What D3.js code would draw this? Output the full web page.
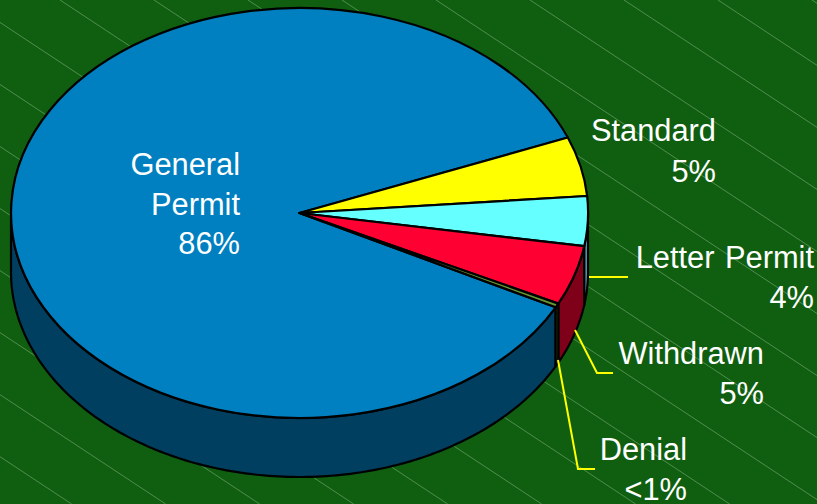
<!DOCTYPE html>
<html>
<head>
<meta charset="utf-8">
<script src="https://cdn.jsdelivr.net/npm/d3@7"></script>
<style>
  html, body { margin: 0; padding: 0; background: #105f10; overflow: hidden; }
  text { font-family: "Liberation Sans", Arial, sans-serif; font-size: 30.8px; fill: #fff; }
</style>
</head>
<body>
<div id="chart"></div>
<script>
// Values
const categories = ["General Permit", "Standard", "Letter Permit", "Withdrawn", "Denial"];
const shares = [86.39, 4.67, 3.92, 4.69, 0.33];
const topColors = ["#0080c0", "#ffff00", "#66ffff", "#ff0033", "#669933"];
const wallColors = ["#003f60", "#7f7f00", "#4fa8c0", "#7f0019", "#334c19"];

// Label lines, right aligned as in the original
const labelLines = [
    ["General", "Permit", "86%"],
    ["Standard", "5%"],
    ["Letter Permit", "4%"],
    ["Withdrawn", "5%"],
    ["Denial", "<1%"]
];

const width = 817, height = 504;
const cx = 299.5, cy = 213, rx = 288.5, ry = 205, depth = 59;
const startDeg = -242.6;

const svg = d3.select("#chart").append("svg")
    .attr("width", width)
    .attr("height", height);

svg.append("rect").attr("width", width).attr("height", height).attr("fill", "#105f10");

// Faint diagonal background hatching
const hatchSlope = 0.66;
const hatchStarts = d3.range(-786, 813, 94);
svg.append("g").selectAll("line")
    .data(hatchStarts)
    .join("line")
    .attr("x1", d => d)
    .attr("y1", 0)
    .attr("x2", d => d + height / hatchSlope)
    .attr("y2", height)
    .attr("stroke", "#8fbc8f")
    .attr("stroke-width", 0.5);

const pie = d3.pie()
    .sort(null)
    .startAngle(startDeg * Math.PI / 180)
    .endAngle((startDeg + 360) * Math.PI / 180);
const slices = pie(shares);

// Pie angle (0 at top, clockwise) to screen position on the tilted ellipse
const px = a => cx + rx * Math.sin(a);
const py = a => cy - ry * Math.cos(a);
const line = d3.line();

// Outer wall of a slice, only the part facing the viewer
function wallPath(s) {
    const halfTurn = Math.PI;
    const norm = a => (a % (2 * halfTurn) + 2 * halfTurn) % (2 * halfTurn);
    let a0 = s.startAngle, a1 = s.endAngle;
    if (a0 < 0) { a0 = norm(a0); a1 = a0 + (s.endAngle - s.startAngle); }
    a0 = Math.max(a0, halfTurn / 2);
    a1 = Math.min(a1, 1.5 * halfTurn);
    if (a1 <= a0) return null;
    const n = Math.max(2, Math.ceil((a1 - a0) * 60));
    const angles = d3.range(n + 1).map(i => a0 + (a1 - a0) * i / n);
    const upper = angles.map(a => [px(a), py(a)]);
    const lower = angles.slice().reverse().map(a => [px(a), py(a) + depth]);
    return line(upper.concat(lower)) + "Z";
}

svg.append("g").selectAll("path")
    .data(slices)
    .join("path")
    .attr("d", wallPath)
    .attr("fill", (d, i) => wallColors[i])
    .attr("stroke", "#000")
    .attr("stroke-width", 2.2)
    .attr("stroke-linejoin", "round");

// Top face: a unit arc squashed into the ellipse
const arc = d3.arc().innerRadius(0).outerRadius(1);
svg.append("g")
    .attr("transform", `translate(${cx},${cy}) scale(${rx},${ry})`)
    .selectAll("path")
    .data(slices)
    .join("path")
    .attr("d", arc)
    .attr("fill", (d, i) => topColors[i])
    .attr("stroke", "#000")
    .attr("stroke-width", 2.2)
    .attr("stroke-linejoin", "round")
    .attr("vector-effect", "non-scaling-stroke");

// Leader lines
const leaders = [
    [[589, 277], [628, 277]],
    [[575, 330], [597, 373], [613, 373]],
    [[558, 360], [578, 469], [595, 469]]
];
svg.append("g").selectAll("path")
    .data(leaders)
    .join("path")
    .attr("d", line)
    .attr("fill", "none")
    .attr("stroke", "#ffff00")
    .attr("stroke-width", 2);

// Labels
const labelRight = [240, 716, 814, 764, 687];
const labelTop = [175, 141, 268, 364, 460];
const labelStep = [39.5, 41, 39.5, 39.5, 40];
labelLines.forEach((lines, i) => {
    svg.append("g").selectAll("text")
        .data(lines)
        .join("text")
        .attr("x", labelRight[i])
        .attr("y", (d, j) => labelTop[i] + j * labelStep[i])
        .attr("text-anchor", "end")
        .attr("word-spacing", 2)
        .text(d => d);
});
</script>
</body>
</html>
